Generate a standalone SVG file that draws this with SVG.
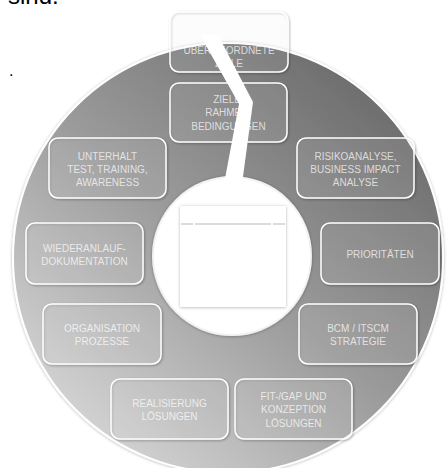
<svg xmlns="http://www.w3.org/2000/svg" width="447" height="468" viewBox="0 0 447 468">
<defs>
<linearGradient id="ringGrad" x1="0.85" y1="0.1" x2="0.15" y2="0.9">
<stop offset="0" stop-color="#6c6c6c"/>
<stop offset="0.5" stop-color="#9a9a9a"/>
<stop offset="1" stop-color="#d4d4d4"/>
</linearGradient>
<filter id="shadow" x="-20%" y="-20%" width="140%" height="140%">
<feDropShadow dx="1" dy="1" stdDeviation="1" flood-color="#000" flood-opacity="0.35"/>
</filter>
<filter id="softShadow" x="-20%" y="-20%" width="140%" height="140%">
<feDropShadow dx="0" dy="0.5" stdDeviation="1.5" flood-color="#000" flood-opacity="0.3"/>
</filter>
</defs>
<style>
.box{fill:#ffffff;fill-opacity:0.08;stroke:#ffffff;stroke-width:1.5;filter:url(#shadow);}
.lbl{font-family:"Liberation Sans",Arial,sans-serif;font-size:10px;fill:#ffffff;fill-opacity:0.72;text-anchor:middle;}
.top{font-family:"Liberation Sans",Arial,sans-serif;fill:#000000;}
</style>
<rect width="447" height="468" fill="#ffffff"/>
<text class="top" x="8" y="4" font-size="24">sind.</text>
<text class="top" x="9" y="76" font-size="16">.</text>
<g id="ring">
<circle cx="228" cy="258" r="215" fill="url(#ringGrad)" stroke="#ffffff" stroke-width="2" filter="url(#softShadow)"/>
</g>
<g id="n-uebergeordnet">
<rect class="box" x="170" y="12" width="118" height="60" rx="9"/>
<text class="lbl" x="229" y="53.6">ÜBERGEORDNETE</text>
<text class="lbl" x="229" y="66.6">ZIELE</text>
</g>
<g id="n-ziele">
<rect class="box" x="170" y="83" width="117" height="59" rx="9"/>
<text class="lbl" x="228.5" y="102.8">ZIELE,</text>
<text class="lbl" x="228.5" y="116.4">RAHMEN-</text>
<text class="lbl" x="228.5" y="130.2">BEDINGUNGEN</text>
</g>
<g id="n-unterhalt">
<rect class="box" x="49" y="138" width="117" height="60" rx="9"/>
<text class="lbl" x="107.5" y="159.6">UNTERHALT</text>
<text class="lbl" x="107.5" y="172.6">TEST, TRAINING,</text>
<text class="lbl" x="107.5" y="185.6">AWARENESS</text>
</g>
<g id="n-risiko">
<rect class="box" x="297" y="138" width="117" height="60" rx="9"/>
<text class="lbl" x="355.5" y="159.6">RISIKOANALYSE,</text>
<text class="lbl" x="355.5" y="172.6">BUSINESS IMPACT</text>
<text class="lbl" x="355.5" y="185.6">ANALYSE</text>
</g>
<g id="n-wiederanlauf">
<rect class="box" x="26" y="223" width="117" height="61" rx="9"/>
<text class="lbl" x="84.5" y="251.6">WIEDERANLAUF-</text>
<text class="lbl" x="84.5" y="264.6">DOKUMENTATION</text>
</g>
<g id="n-prioritaeten">
<rect class="box" x="321" y="223" width="118" height="61" rx="9"/>
<text class="lbl" x="380" y="257.6">PRIORITÄTEN</text>
</g>
<g id="n-organisation">
<rect class="box" x="43" y="304" width="118" height="60" rx="9"/>
<text class="lbl" x="102" y="332">ORGANISATION</text>
<text class="lbl" x="102" y="345.3">PROZESSE</text>
</g>
<g id="n-bcm">
<rect class="box" x="299" y="304" width="118" height="60" rx="9"/>
<text class="lbl" x="358" y="332">BCM / ITSCM</text>
<text class="lbl" x="358" y="345.3">STRATEGIE</text>
</g>
<g id="n-realisierung">
<rect class="box" x="111" y="379" width="117" height="60" rx="9"/>
<text class="lbl" x="169.5" y="407">REALISIERUNG</text>
<text class="lbl" x="169.5" y="419.6">LÖSUNGEN</text>
</g>
<g id="n-fitgap">
<rect class="box" x="235" y="379" width="117" height="60" rx="9"/>
<text class="lbl" x="293.5" y="400.3">FIT-/GAP UND</text>
<text class="lbl" x="293.5" y="413">KONZEPTION</text>
<text class="lbl" x="293.5" y="427">LÖSUNGEN</text>
</g>
<g id="center">
<circle cx="232" cy="256" r="79" fill="#ffffff" stroke="#f2f2f2" stroke-width="2" filter="url(#softShadow)"/>
<rect x="180" y="206" width="106" height="101" fill="#ffffff" filter="url(#softShadow)"/>
<line x1="181" y1="224" x2="193" y2="224" stroke="#dcdcdc" stroke-width="2"/>
<line x1="195" y1="224" x2="271" y2="224" stroke="#dcdcdc" stroke-width="2"/>
<line x1="273" y1="224" x2="285" y2="224" stroke="#dcdcdc" stroke-width="2"/>
</g>
<g id="connectors">
<polygon points="200,35 218,35 253,102 242,184 224,184 239,104" fill="#ffffff"/>
</g>
</svg>
